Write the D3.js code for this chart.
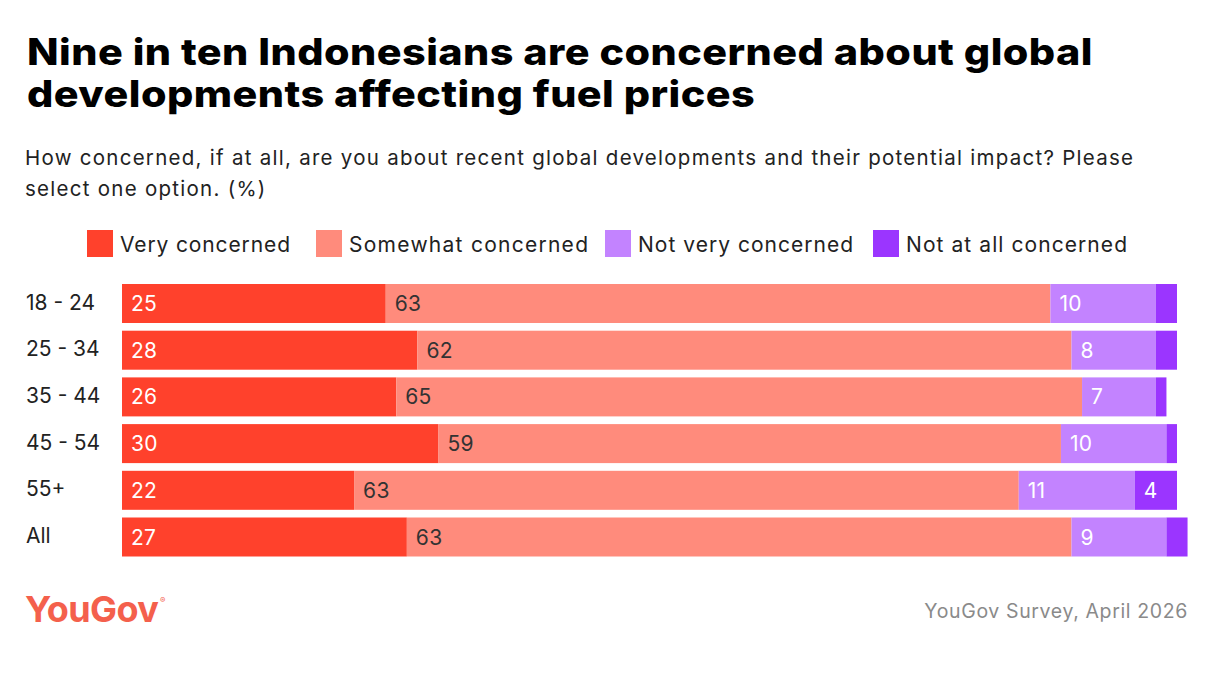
<!DOCTYPE html>
<html>
<head>
<meta charset="utf-8">
<script src="https://cdn.jsdelivr.net/npm/d3@7/dist/d3.min.js"></script>
<style>
  html, body { margin: 0; padding: 0; background: #fff; }
  svg { display: block; }
  text { font-family: Inter, "Noto Sans", sans-serif; }
</style>
</head>
<body>
<svg id="chart" width="1228" height="680"></svg>
<script>
const categories = ["18 - 24", "25 - 34", "35 - 44", "45 - 54", "55+", "All"];
const seriesNames = ["Very concerned", "Somewhat concerned", "Not very concerned", "Not at all concerned"];
const veryConcerned     = [25, 28, 26, 30, 22, 27];
const somewhatConcerned = [63, 62, 65, 59, 63, 63];
const notVeryConcerned  = [10, 8, 7, 10, 11, 9];
const notAtAllConcerned = [2, 2, 1, 1, 4, 2];
const colors = ["#ff412c", "#ff8b7c", "#c383ff", "#9b35ff"];
const labelColors = ["#ffffff", "#333333", "#ffffff", "#ffffff"];
const titleLines = ["Nine in ten Indonesians are concerned about global", "developments affecting fuel prices"];
const subtitleLines = ["How concerned, if at all, are you about recent global developments and their potential impact? Please", "select one option. (%)"];
const sourceText = "YouGov Survey, April 2026";

const svg = d3.select("#chart");

function fitSpacing(sel, target) {
  const node = sel.node();
  const w = node.getComputedTextLength();
  const n = node.textContent.length;
  return (target - w) / Math.max(1, n - 1);
}

// Title (horizontally widened to match the wide heavy face of the original)
const titleG = svg.append("g");
const titleTexts = titleG.selectAll("text").data(titleLines).join("text")
  .attr("x", 0).attr("y", (d, i) => 65 + i * 42)
  .attr("font-size", 37).attr("font-weight", 800).attr("fill", "#000")
  .attr("letter-spacing", 0.4)
  .text(d => d);
const tw = titleTexts.filter((d, i) => i === 0).node().getComputedTextLength();
titleG.attr("transform", `translate(27,0) scale(${1066 / tw},1)`);

// Subtitle
const subTexts = svg.append("g").selectAll("text").data(subtitleLines).join("text")
  .attr("x", 25).attr("y", (d, i) => 165 + i * 31)
  .attr("font-size", 20.5).attr("fill", "#222")
  .text(d => d);
subTexts.attr("letter-spacing", fitSpacing(subTexts.filter((d, i) => i === 0), 1108));

// Legend
const legendX = [87, 316, 605, 873];
const legendW = [170, 239, 215, 221];
const lg = svg.append("g").selectAll("g").data(seriesNames).join("g")
  .attr("transform", (d, i) => `translate(${legendX[i]},230)`);
lg.append("rect").attr("width", 26).attr("height", 27).attr("fill", (d, i) => colors[i]);
lg.append("text").attr("x", 33).attr("y", 21.5).attr("font-size", 21).attr("fill", "#222").text(d => d)
  .each(function(d, i) {
    const s = d3.select(this);
    s.attr("letter-spacing", fitSpacing(s, legendW[i]));
  });

// Data
const rows = categories.map((c, i) => ({
  cat: c,
  vals: [veryConcerned[i], somewhatConcerned[i], notVeryConcerned[i], notAtAllConcerned[i]]
}));

const x = d3.scaleLinear().domain([0, 100]).range([122, 1177]);
const yBand = d3.scaleBand().domain(categories).range([284, 284 + 6 * 46.7 - 7.7]).paddingInner(7.7 / 46.7);

const segs = [];
rows.forEach(r => {
  let acc = 0;
  r.vals.forEach((v, k) => {
    segs.push({ cat: r.cat, k, v, x0: acc, x1: acc + v });
    acc += v;
  });
});

const bars = svg.append("g");
bars.selectAll("rect").data(segs).join("rect")
  .attr("x", d => x(d.x0))
  .attr("y", d => yBand(d.cat))
  .attr("width", d => x(d.x1) - x(d.x0))
  .attr("height", yBand.bandwidth())
  .attr("fill", d => colors[d.k]);

bars.selectAll("text").data(segs.filter(d => d.v >= 3)).join("text")
  .attr("x", d => x(d.x0) + 9)
  .attr("y", d => yBand(d.cat) + yBand.bandwidth() / 2 + 7.5)
  .attr("font-size", 21).attr("fill", d => labelColors[d.k])
  .attr("letter-spacing", 0.3)
  .text(d => d.v);

// Category labels
svg.append("g").selectAll("text").data(categories).join("text")
  .attr("x", 26)
  .attr("y", d => yBand(d) + yBand.bandwidth() / 2 + 6)
  .attr("font-size", 21).attr("fill", "#222")
  .text(d => d);

// Logo
const logo = svg.append("g");
logo.append("text").attr("x", 25).attr("y", 622).attr("font-size", 36).attr("font-weight", 700)
  .attr("fill", "#f4604c").attr("letter-spacing", -0.6).text("YouGov");
logo.append("text").attr("x", 160).attr("y", 603).attr("font-size", 8).attr("fill", "#f4604c").text("®");

// Source
const src = svg.append("text").attr("x", 1188).attr("y", 618).attr("text-anchor", "end")
  .attr("font-size", 19.5).attr("fill", "#8a8a8a").text(sourceText);
src.attr("letter-spacing", fitSpacing(src, 263));
</script>
</body>
</html>
